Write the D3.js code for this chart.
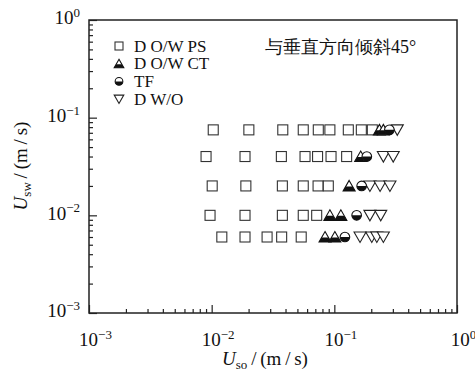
<!DOCTYPE html>
<html>
<head>
<meta charset="utf-8">
<script src="https://cdn.jsdelivr.net/npm/d3@7"></script>
<style>
  html, body { margin: 0; padding: 0; background: #fff; }
  svg { display: block; }
  text { font-family: "Liberation Serif", "DejaVu Serif", serif; fill: #111; }
</style>
</head>
<body>
<svg id="chart" width="475" height="375"></svg>
<script>
// ---- data (U_so in m/s, U_sw in m/s) ----
const psUso = [0.0103, 0.0201, 0.038, 0.0558, 0.074, 0.092, 0.130, 0.166, 0.204,
               0.009, 0.0187, 0.037, 0.0577, 0.073, 0.094, 0.126,
               0.0101, 0.019, 0.0377, 0.0558, 0.0737, 0.0893,
               0.0097, 0.0187, 0.0377, 0.0558, 0.0718,
               0.0121, 0.0187, 0.0283, 0.0372, 0.0537];
const psUsw = [0.075, 0.075, 0.075, 0.075, 0.075, 0.075, 0.075, 0.075, 0.075,
               0.04, 0.04, 0.04, 0.04, 0.04, 0.04, 0.04,
               0.02, 0.02, 0.02, 0.02, 0.02, 0.02,
               0.01, 0.01, 0.01, 0.01, 0.01,
               0.006, 0.006, 0.006, 0.006, 0.006];

const ctUso = [0.233, 0.251, 0.164, 0.132, 0.092, 0.113, 0.084, 0.101];
const ctUsw = [0.075, 0.075, 0.04, 0.02, 0.01, 0.01, 0.006, 0.006];

const tfUso = [0.281, 0.184, 0.167, 0.152, 0.122];
const tfUsw = [0.075, 0.04, 0.02, 0.01, 0.006];

const woUso = [0.326, 0.251, 0.302, 0.195, 0.236, 0.284, 0.195, 0.239, 0.162, 0.202, 0.222, 0.251];
const woUsw = [0.075, 0.04, 0.04, 0.02, 0.02, 0.02, 0.01, 0.01, 0.006, 0.006, 0.006, 0.006];

const seriesNames = ["D O/W PS", "D O/W CT", "TF", "D W/O"];
const majorTicks = [0.001, 0.01, 0.1, 1];
const tickExponents = ["\u22123", "\u22122", "\u22121", "0"];
const annotation = "与垂直方向倾斜45°";

// ---- layout ----
const svg = d3.select("#chart");
const L = 89, R = 457, T = 20, B = 313;
const x = d3.scaleLog().domain([1e-3, 1]).range([L, R]);
const y = d3.scaleLog().domain([1e-3, 1]).range([B, T]);

const minor = [];
for (let e = -3; e < 0; e++) for (let k = 2; k <= 9; k++) minor.push(k * Math.pow(10, e));

// minor ticks
svg.append("g").attr("transform", `translate(0,${B})`)
  .call(d3.axisBottom(x).tickValues(minor).tickSize(-4).tickFormat(""))
  .call(g => g.select(".domain").remove())
  .call(g => g.selectAll("line").attr("stroke", "#222").attr("stroke-width", 1.2));
svg.append("g").attr("transform", `translate(${L},0)`)
  .call(d3.axisLeft(y).tickValues(minor).tickSize(-4).tickFormat(""))
  .call(g => g.select(".domain").remove())
  .call(g => g.selectAll("line").attr("stroke", "#222").attr("stroke-width", 1.2));

// major ticks + labels
function supLabels(g) {
  g.selectAll(".tick text").each(function(d) {
    const t = d3.select(this);
    t.text(null);
    t.append("tspan").text("10");
    t.append("tspan").attr("dy", "-0.55em").attr("font-size", "13px").text(tickExponents[majorTicks.indexOf(d)]);
  });
}
svg.append("g").attr("transform", `translate(0,${B})`)
  .call(d3.axisBottom(x).tickValues(majorTicks).tickSize(-8).tickPadding(20).tickFormat(() => "x"))
  .call(g => g.select(".domain").remove())
  .call(g => g.selectAll("line").attr("stroke", "#222").attr("stroke-width", 1.2))
  .call(g => g.selectAll(".tick text").attr("font-size", "19px").attr("font-family", "Liberation Serif").attr("fill", "#111").attr("dx", "6px"))
  .call(supLabels);
svg.append("g").attr("transform", `translate(${L},0)`)
  .call(d3.axisLeft(y).tickValues(majorTicks).tickSize(-8).tickPadding(9).tickFormat(() => "x"))
  .call(g => g.select(".domain").remove())
  .call(g => g.selectAll("line").attr("stroke", "#222").attr("stroke-width", 1.2))
  .call(g => g.selectAll(".tick text").attr("font-size", "19px").attr("font-family", "Liberation Serif").attr("fill", "#111").attr("dy", "0.2em"))
  .call(supLabels);

// frame
svg.append("rect").attr("x", L).attr("y", T).attr("width", R - L).attr("height", B - T)
  .attr("fill", "none").attr("stroke", "#222").attr("stroke-width", 1.5);

// ---- marker painters ----
const defs = svg.append("defs");
function clipHalf(id, yTop, h) {
  defs.append("clipPath").attr("id", id).append("rect").attr("x", -20).attr("y", yTop).attr("width", 40).attr("height", h);
}
clipHalf("lowTri", 0.5, 10);
clipHalf("lowCirc", 0, 10);

function drawSquare(g, s = 1) {
  g.append("rect").attr("x", -5 * s).attr("y", -5 * s).attr("width", 10 * s).attr("height", 10 * s)
    .attr("fill", "#fff").attr("stroke", "#333").attr("stroke-width", 1.1);
}
function drawTri(g, s = 1) {
  const p = `M0,${-5.5 * s}L${6 * s},${5 * s}L${-6 * s},${5 * s}Z`;
  g.append("path").attr("d", p).attr("fill", "#fff").attr("stroke", "#111").attr("stroke-width", 1.1);
  g.append("path").attr("d", p).attr("fill", "#111").attr("clip-path", "url(#lowTri)");
}
function drawCirc(g, s = 1) {
  g.append("circle").attr("r", 4.8 * s).attr("fill", "#fff").attr("stroke", "#111").attr("stroke-width", 1.1);
  g.append("circle").attr("r", 4.8 * s).attr("fill", "#111").attr("clip-path", "url(#lowCirc)");
}
function drawInv(g, s = 1) {
  const p = `M${-6 * s},${-5 * s}L${6 * s},${-5 * s}L0,${5.5 * s}Z`;
  g.append("path").attr("d", p).attr("fill", "#fff").attr("stroke", "#222").attr("stroke-width", 1.1);
}

function plot(xs, ys, painter) {
  const pts = xs.map((v, i) => [v, ys[i]]);
  svg.append("g").selectAll("g").data(pts).join("g")
    .attr("transform", d => `translate(${x(d[0])},${y(d[1])})`)
    .each(function() { painter(d3.select(this)); });
}
plot(psUso, psUsw, drawSquare);
plot(woUso, woUsw, drawInv);
plot(ctUso, ctUsw, drawTri);
plot(tfUso, tfUsw, drawCirc);

// ---- legend ----
const painters = [drawSquare, drawTri, drawCirc, drawInv];
const leg = svg.append("g");
seriesNames.forEach((name, i) => {
  const yy = 46 + i * 17.7;
  const g = leg.append("g").attr("transform", `translate(119,${yy})`);
  painters[i](g, 0.8);
  leg.append("text").attr("x", 134).attr("y", yy).attr("dy", "0.33em")
    .attr("font-size", "17px").text(name);
});

// annotation
svg.append("text").attr("x", 265).attr("y", 47).attr("dy", "0.35em")
  .attr("font-size", "18px").attr("font-family", "'Noto Sans CJK SC'").attr("font-weight", 300).text(annotation);

// axis titles
const xt = svg.append("text").attr("x", 265).attr("y", 365).attr("text-anchor", "middle").attr("font-size", "19px");
xt.append("tspan").attr("font-style", "italic").text("U");
xt.append("tspan").attr("font-size", "13px").attr("dy", "4").text("so");
xt.append("tspan").attr("dy", "-4").text("\u2009/\u2009(m\u2009/\u2009s)");

const yt = svg.append("text").attr("transform", "translate(27,166) rotate(-90)").attr("text-anchor", "middle").attr("font-size", "19px");
yt.append("tspan").attr("font-style", "italic").text("U");
yt.append("tspan").attr("font-size", "13px").attr("dy", "4").text("sw");
yt.append("tspan").attr("dy", "-4").text("\u2009/\u2009(m\u2009/\u2009s)");
</script>
</body>
</html>
